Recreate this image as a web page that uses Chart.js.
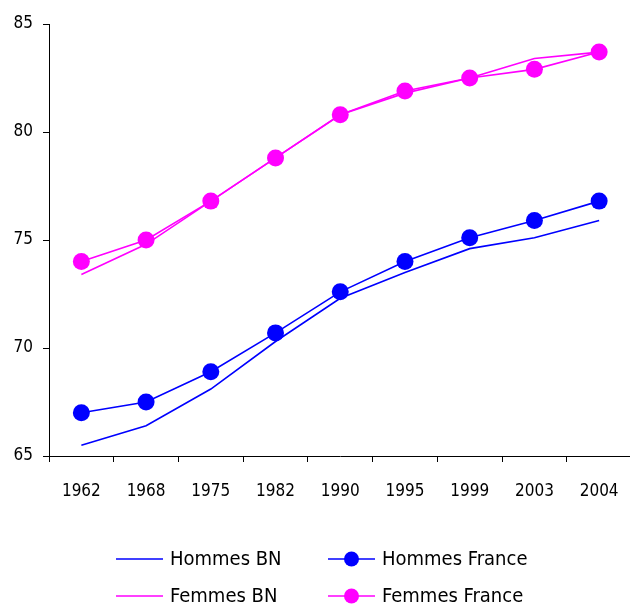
<!DOCTYPE html>
<html lang="fr">
<head>
<meta charset="utf-8">
<title>Espérance de vie à la naissance</title>
<script src="https://cdn.jsdelivr.net/npm/chart.js@4.4.1/dist/chart.umd.min.js"></script>
<style>
  html, body { margin: 0; padding: 0; background: #fff; overflow: hidden; width: 630px; height: 604px; }
  canvas { display: block; }
</style>
</head>
<body>
<canvas id="chart" width="640" height="604"></canvas>
<script>
// Years of observation
const years = ['1962', '1968', '1975', '1982', '1990', '1995', '1999', '2003', '2004'];

// Life expectancy at birth (years)
const hommesBN      = [65.5, 66.4, 68.1, 70.3, 72.3, 73.5, 74.6, 75.1, 75.9];
const hommesFrance  = [67.0, 67.5, 68.9, 70.7, 72.6, 74.0, 75.1, 75.9, 76.8];
const femmesBN      = [73.4, 74.8, 76.8, 78.8, 80.8, 81.8, 82.5, 83.4, 83.7];
const femmesFrance  = [74.0, 75.0, 76.8, 78.8, 80.8, 81.9, 82.5, 82.9, 83.7];

// Value axis ticks
const yTicks = [65, 70, 75, 80, 85];

const BLUE = '#0000ff';
const MAGENTA = '#ff00ff';
const FONT = 'Tahoma, "DejaVu Sans Condensed", "DejaVu Sans", sans-serif';

function series(label, data, color, withMarkers) {
  return {
    label, data,
    borderColor: color,
    backgroundColor: color,
    borderWidth: 1.6,
    tension: 0,
    pointRadius: withMarkers ? 8.5 : 0,
    pointHoverRadius: withMarkers ? 8.5 : 0,
    pointBorderWidth: 0,
    pointBackgroundColor: color,
    _markers: withMarkers
  };
}

// Two-column legend drawn under the axis: line sample (+ marker) then label
const legendGrid = {
  id: 'legendGrid',
  afterDraw(chart) {
    const ctx = chart.ctx;
    const cols = [116, 328];
    const rows = [559, 596];
    const sample = 47;
    ctx.save();
    ctx.font = '20px ' + FONT;
    ctx.textBaseline = 'middle';
    ctx.textAlign = 'left';
    chart.data.datasets.forEach((ds, i) => {
      const x = cols[i % 2];
      const y = rows[Math.floor(i / 2)];
      ctx.strokeStyle = ds.borderColor;
      ctx.lineWidth = 1.6;
      ctx.beginPath();
      ctx.moveTo(x, y);
      ctx.lineTo(x + sample, y);
      ctx.stroke();
      if (ds._markers) {
        ctx.fillStyle = ds.borderColor;
        ctx.beginPath();
        ctx.arc(x + sample / 2, y, 7.5, 0, Math.PI * 2);
        ctx.fill();
      }
      ctx.fillStyle = '#000';
      ctx.fillText(ds.label, x + sample + 7, y + 1);
    });
    ctx.restore();
  }
};

new Chart(document.getElementById('chart'), {
  type: 'line',
  data: {
    labels: years,
    datasets: [
      series('Hommes BN', hommesBN, BLUE, false),
      series('Hommes France', hommesFrance, BLUE, true),
      series('Femmes BN', femmesBN, MAGENTA, false),
      series('Femmes France', femmesFrance, MAGENTA, true)
    ]
  },
  options: {
    responsive: false,
    animation: false,
    events: [],
    layout: { padding: { top: 24, right: 3, bottom: 0, left: 0 } },
    plugins: {
      legend: { display: false },
      tooltip: { enabled: false },
      title: { display: false }
    },
    scales: {
      x: {
        offset: true,
        afterFit(scale) { scale.height = 148; },
        grid: {
          offset: true,
          drawOnChartArea: false,
          drawTicks: true,
          tickLength: 6,
          color: '#000',
          lineWidth: 1
        },
        border: { display: true, color: '#000', width: 1 },
        ticks: {
          color: '#000',
          padding: 19,
          maxRotation: 0,
          autoSkip: false,
          font: { family: FONT, size: 17 }
        }
      },
      y: {
        min: 65,
        max: 85,
        afterFit(scale) { scale.width = 49; },
        afterBuildTicks(scale) { scale.ticks = yTicks.map(v => ({ value: v })); },
        grid: {
          drawOnChartArea: false,
          drawTicks: true,
          tickLength: 6,
          color: '#000',
          lineWidth: 1
        },
        border: { display: true, color: '#000', width: 1 },
        ticks: {
          color: '#000',
          padding: 10,
          font: { family: FONT, size: 17 }
        }
      }
    }
  },
  plugins: [legendGrid]
});
</script>
</body>
</html>
